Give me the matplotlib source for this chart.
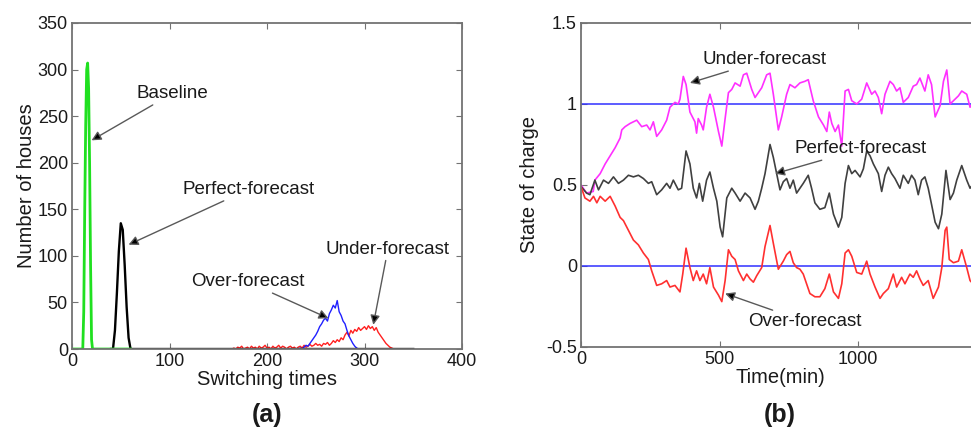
import numpy as np
import matplotlib.pyplot as plt
from matplotlib.ticker import FormatStrFormatter

plt.rcParams['font.family'] = ['Liberation Sans', 'DejaVu Sans']

# (a) histogram of switching times per house
base_x = [0, 11, 12, 13, 14, 15, 16, 17, 18, 19, 20, 21, 60]
base_y = [0, 0, 40, 150, 240, 300, 307, 280, 200, 90, 10, 0, 0]

perf_x = [40, 42, 44, 46, 48, 50, 52, 54, 56, 58, 60, 350]
perf_y = [0, 0, 20, 60, 105, 135, 128, 90, 45, 12, 0, 0]

over_x = list(range(230, 298, 2))
over_y = [0, 0, 1, 0, 2, 4, 3, 6, 9, 12, 15, 19, 24, 27, 31, 33, 30,
          38, 42, 47, 44, 52, 40, 36, 30, 27, 20, 14, 10, 6, 3, 1, 0, 0]

under_x = list(range(164, 334, 2))
under_y = [0, 1, 0, 2, 1, 3, 0, 1, 2, 0, 3, 1, 2, 0, 3, 1, 2, 4, 1, 2,
           0, 3, 1, 2, 4, 1, 3, 2, 0, 2, 3, 1, 2, 0, 2, 3, 1, 4, 2, 3,
           5, 3, 4, 6, 4, 5, 3, 6, 5, 7, 4, 6, 9, 7, 10, 8, 12, 10, 15, 18,
           14, 20, 17, 21, 19, 23, 20, 22, 24, 21, 25, 22, 24, 20, 23, 18, 15, 12, 9, 6,
           4, 2, 1, 0, 0]

# (b) state of charge over one day
soc_under_t = [0, 20, 44, 50, 69, 87, 105, 123, 141, 147, 159, 177, 201, 219, 237, 249,
               261, 273, 291, 309, 321, 339, 351, 357, 369, 379, 393, 411, 417, 423, 435,
               441, 453, 465, 478, 496, 508, 520, 532, 544, 556, 574, 586, 598, 616, 628,
               640, 652, 670, 682, 694, 712, 724, 742, 754, 772, 790, 808, 820, 838, 857,
               875, 887, 896, 905, 917, 929, 941, 953, 965, 977, 995, 1013, 1031, 1049,
               1061, 1073, 1085, 1097, 1115, 1127, 1139, 1151, 1163, 1181, 1199, 1211,
               1223, 1241, 1253, 1265, 1278, 1296, 1308, 1320, 1332, 1344, 1362, 1374,
               1392, 1404, 1420, 1440]
soc_under = [0.50, 0.45, 0.46, 0.53, 0.57, 0.63, 0.68, 0.73, 0.79, 0.84, 0.86, 0.88, 0.90,
             0.86, 0.87, 0.84, 0.89, 0.80, 0.84, 0.90, 0.98, 1.01, 1.00, 1.03, 1.17, 1.12,
             0.95, 0.89, 0.82, 0.91, 0.87, 0.84, 0.98, 1.06, 0.98, 0.83, 0.74, 0.91, 1.07,
             1.09, 1.13, 1.11, 1.18, 1.19, 1.09, 1.04, 1.07, 1.10, 1.18, 1.19, 1.06, 0.84,
             0.92, 1.06, 1.12, 1.10, 1.13, 1.14, 1.15, 1.02, 0.92, 0.87, 0.83, 0.95, 0.88,
             0.83, 0.87, 0.74, 1.08, 1.09, 1.02, 1.00, 1.03, 1.13, 1.06, 1.08, 1.04, 0.94,
             1.06, 1.14, 1.12, 1.08, 1.10, 1.01, 1.04, 1.11, 1.12, 1.16, 1.08, 1.18, 1.12,
             0.92, 0.99, 1.14, 1.21, 1.00, 1.02, 1.05, 1.08, 1.06, 0.98, 1.02, 1.00]

soc_perf_t = [0, 20, 32, 50, 63, 81, 99, 117, 135, 153, 171, 189, 207, 225, 243, 255, 273,
              291, 309, 321, 333, 351, 363, 379, 393, 405, 417, 427, 439, 453, 465, 478,
              490, 502, 511, 526, 544, 556, 574, 592, 610, 628, 640, 652, 664, 682, 694,
              706, 718, 730, 742, 754, 766, 778, 790, 802, 820, 832, 844, 862, 880, 896,
              911, 929, 941, 953, 965, 977, 989, 1007, 1019, 1031, 1043, 1055, 1073, 1085,
              1097, 1109, 1121, 1133, 1151, 1163, 1181, 1193, 1205, 1217, 1229, 1241, 1253,
              1265, 1278, 1290, 1302, 1317, 1332, 1344, 1356, 1374, 1392, 1404, 1420, 1440]
soc_perf = [0.49, 0.45, 0.44, 0.53, 0.47, 0.53, 0.51, 0.55, 0.51, 0.53, 0.56, 0.55, 0.56,
            0.54, 0.51, 0.52, 0.44, 0.47, 0.51, 0.48, 0.53, 0.47, 0.48, 0.71, 0.63, 0.48,
            0.42, 0.51, 0.40, 0.53, 0.58, 0.48, 0.40, 0.24, 0.18, 0.42, 0.48, 0.45, 0.40,
            0.45, 0.42, 0.35, 0.40, 0.48, 0.57, 0.75, 0.67, 0.57, 0.47, 0.52, 0.54, 0.48,
            0.53, 0.45, 0.48, 0.51, 0.56, 0.48, 0.39, 0.35, 0.36, 0.45, 0.32, 0.24, 0.30,
            0.51, 0.62, 0.57, 0.59, 0.55, 0.60, 0.71, 0.68, 0.63, 0.57, 0.46, 0.56, 0.61,
            0.57, 0.54, 0.48, 0.56, 0.51, 0.56, 0.53, 0.44, 0.53, 0.55, 0.48, 0.38, 0.27,
            0.23, 0.32, 0.59, 0.41, 0.45, 0.53, 0.62, 0.53, 0.48, 0.52, 0.50]

soc_over_t = [0, 14, 32, 45, 57, 69, 87, 105, 123, 141, 153, 171, 189, 207, 225, 243, 255,
              273, 291, 309, 321, 339, 357, 367, 379, 393, 405, 417, 429, 441, 453, 465,
              478, 496, 508, 520, 532, 544, 556, 568, 586, 598, 610, 622, 634, 652, 664,
              682, 694, 712, 730, 742, 754, 766, 778, 790, 802, 814, 826, 844, 862, 880,
              896, 911, 929, 941, 953, 965, 977, 995, 1013, 1031, 1043, 1061, 1079, 1091,
              1109, 1127, 1139, 1157, 1169, 1187, 1199, 1211, 1223, 1235, 1253, 1271, 1290,
              1302, 1314, 1320, 1329, 1344, 1362, 1374, 1392, 1404, 1420, 1440]
soc_over = [0.49, 0.42, 0.40, 0.43, 0.39, 0.43, 0.40, 0.43, 0.37, 0.30, 0.28, 0.22, 0.16,
            0.13, 0.08, 0.04, -0.03, -0.12, -0.11, -0.09, -0.13, -0.12, -0.16, -0.05, 0.11,
            -0.01, -0.09, -0.03, -0.09, -0.05, -0.11, -0.01, -0.13, -0.18, -0.22, -0.09,
            0.10, 0.06, 0.04, -0.03, -0.09, -0.05, -0.08, -0.10, -0.06, -0.01, 0.12, 0.25,
            0.14, -0.02, 0.03, 0.07, 0.09, 0.02, -0.01, -0.02, -0.05, -0.11, -0.17, -0.19,
            -0.19, -0.14, -0.05, -0.16, -0.20, -0.11, 0.08, 0.10, 0.06, -0.04, -0.05, 0.03,
            -0.05, -0.13, -0.20, -0.17, -0.14, -0.05, -0.13, -0.07, -0.11, -0.05, -0.07,
            -0.03, -0.08, -0.12, -0.09, -0.20, -0.13, -0.01, 0.22, 0.24, 0.04, 0.02, 0.03,
            0.10, -0.01, -0.09, -0.12, -0.10]

soc_limits = [0, 1]

spine_gray = '0.45'
text_col = '0.1'
note_size = 13.5
label_size = 14.5
arrow_kw = dict(arrowstyle='-|>', mutation_scale=14, lw=1.0, ec='0.35', fc='black',
                shrinkA=0, shrinkB=0)


def style_axes(ax):
    for s in ax.spines.values():
        s.set_color(spine_gray)
        s.set_linewidth(1.3)
    ax.tick_params(direction='in', top=True, right=True, length=4, width=0.8,
                   color=spine_gray, labelsize=13, labelcolor=text_col, pad=3)


fig = plt.figure(figsize=(9.71, 4.32), dpi=100)

# panel (a)
ax1 = fig.add_axes([0.0742, 0.1921, 0.4016, 0.7547])
ax1.plot(under_x, under_y, color='#ff2020', lw=1.0)
ax1.plot(over_x, over_y, color='#2020ff', lw=1.0)
ax1.plot(perf_x, perf_y, color='black', lw=1.7)
ax1.plot(base_x, base_y, color='#20e020', lw=2.0)
ax1.set_xlim(0, 400)
ax1.set_ylim(0, 350)
ax1.set_xticks(np.arange(0, 401, 100))
ax1.set_yticks(np.arange(0, 351, 50))
style_axes(ax1)
ax1.set_xlabel('Switching times', fontsize=label_size, color=text_col, labelpad=0)
ax1.set_ylabel('Number of houses', fontsize=label_size, color=text_col, labelpad=1)

ax1.annotate('Baseline', xy=(20, 224), xytext=(66, 265), fontsize=note_size,
             color=text_col, ha='left', va='bottom', arrowprops=arrow_kw)
ax1.annotate('Perfect-forecast', xy=(58, 112), xytext=(113, 162), fontsize=note_size,
             color=text_col, ha='left', va='bottom', arrowprops=arrow_kw)
ax1.annotate('Under-forecast', xy=(309, 26), xytext=(324, 98), fontsize=note_size,
             color=text_col, ha='center', va='bottom', arrowprops=arrow_kw)
ax1.annotate('Over-forecast', xy=(263, 33), xytext=(238, 63), fontsize=note_size,
             color=text_col, ha='right', va='bottom', arrowprops=arrow_kw)

# panel (b), the time axis runs past the right edge of the figure
ax2 = fig.add_axes([0.5984, 0.1968, 0.4109, 0.75])
ax2.axhline(soc_limits[0], color='#3030ff', lw=1.1)
ax2.axhline(soc_limits[1], color='#3030ff', lw=1.1)
ax2.plot(soc_under_t, soc_under, color='#ff30ff', lw=1.2)
ax2.plot(soc_perf_t, soc_perf, color='0.25', lw=1.2)
ax2.plot(soc_over_t, soc_over, color='#ff3030', lw=1.2)
ax2.set_xlim(0, 1440)
ax2.set_ylim(-0.5, 1.5)
ax2.set_xticks([0, 500, 1000])
ax2.set_yticks([-0.5, 0, 0.5, 1, 1.5])
ax2.yaxis.set_major_formatter(FormatStrFormatter('%g'))
style_axes(ax2)
ax2.set_xlabel('Time(min)', fontsize=label_size, color=text_col, labelpad=0)
ax2.set_ylabel('State of charge', fontsize=label_size, color=text_col, labelpad=5)

ax2.annotate('Under-forecast', xy=(393, 1.13), xytext=(440, 1.22), fontsize=note_size,
             color=text_col, ha='left', va='bottom', arrowprops=arrow_kw)
ax2.annotate('Perfect-forecast', xy=(700, 0.57), xytext=(772, 0.67), fontsize=note_size,
             color=text_col, ha='left', va='bottom', arrowprops=arrow_kw)
ax2.annotate('Over-forecast', xy=(520, -0.17), xytext=(603, -0.29), fontsize=note_size,
             color=text_col, ha='left', va='top', arrowprops=arrow_kw)

fig.text(267 / 971, 1 - 415 / 432, '(a)', fontsize=18, fontweight='bold',
         ha='center', va='center', color=text_col)
fig.text(780 / 971, 1 - 415 / 432, '(b)', fontsize=18, fontweight='bold',
         ha='center', va='center', color=text_col)

fig.savefig('out.png', dpi=100)
